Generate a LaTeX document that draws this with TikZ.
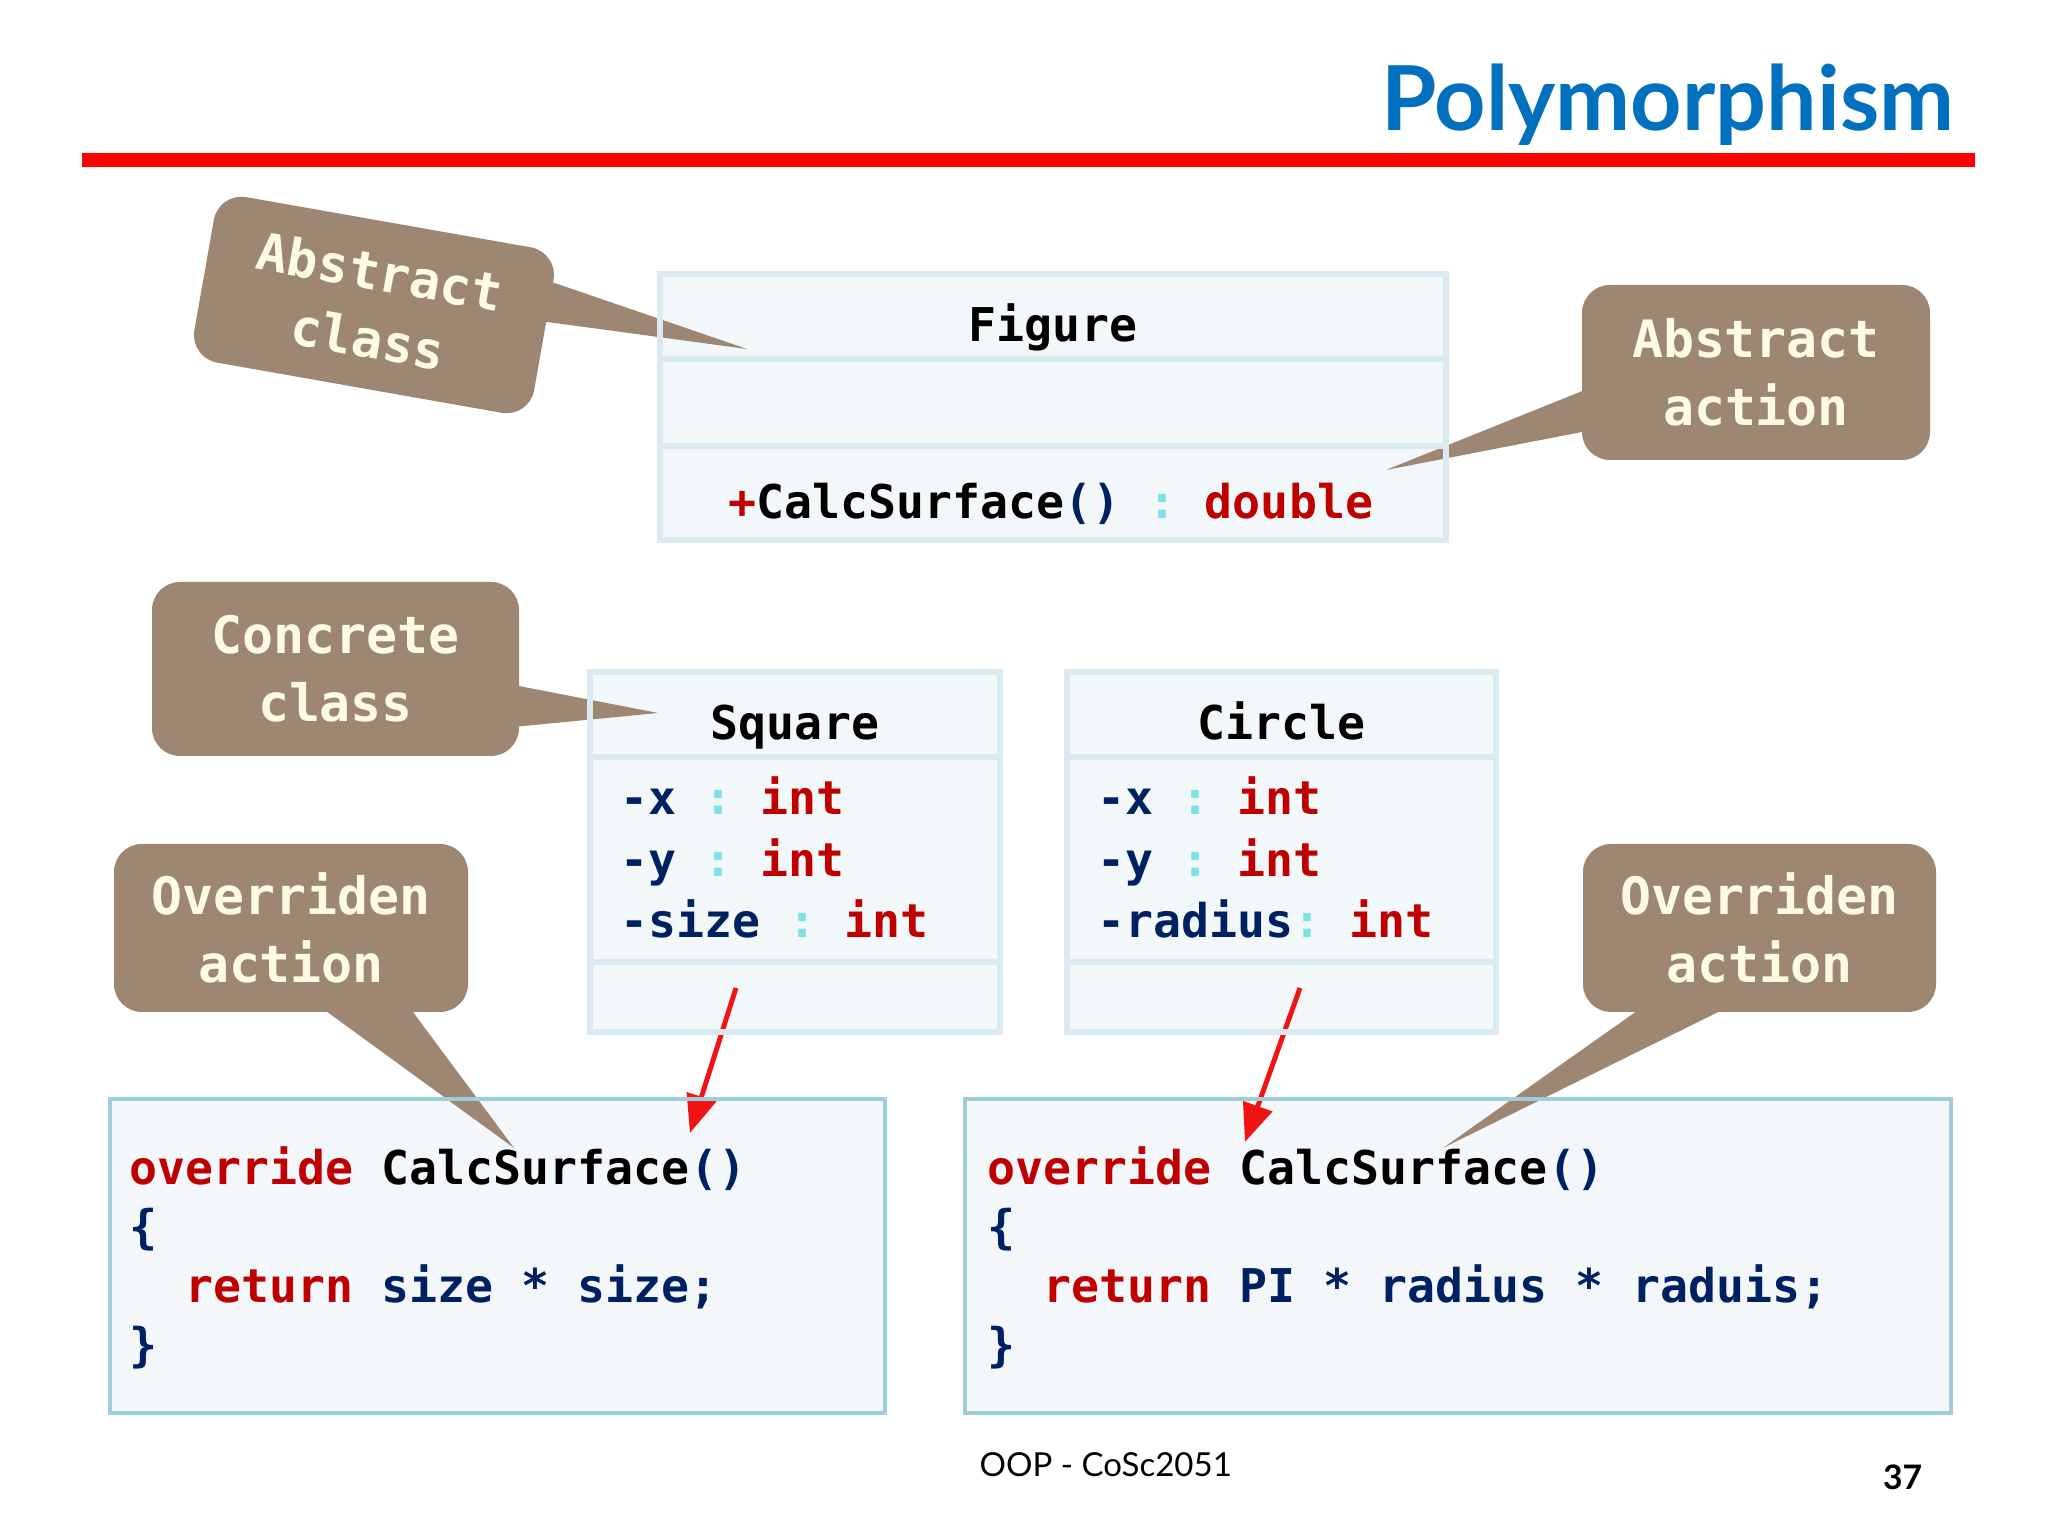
\documentclass[tikz,border=0pt]{standalone}
\usepackage{fontspec}
\setmainfont{Lato}
\setmonofont{DejaVu Sans Mono}
\usepackage{tikz}
\usetikzlibrary{calc,arrows.meta}
\definecolor{titleblue}{rgb}{0.0, 0.44, 0.75}
\definecolor{keyred}{rgb}{0.75, 0.0, 0.0}
\definecolor{typenavy}{rgb}{0.0, 0.13, 0.38}
\definecolor{colcyan}{rgb}{0.5, 0.88, 0.9}
\definecolor{bubblebrown}{rgb}{0.616, 0.525, 0.447}
\definecolor{bubblecream}{rgb}{1.0, 0.984, 0.886}
\definecolor{umlfill}{rgb}{0.949, 0.973, 0.976}
\definecolor{umlborder}{rgb}{0.855, 0.918, 0.941}
\definecolor{codefill}{rgb}{0.953, 0.969, 0.98}
\definecolor{codeborder}{rgb}{0.627, 0.804, 0.855}
\definecolor{arrowred}{rgb}{0.94, 0.08, 0.08}
\newcommand{\kwd}[1]{\textcolor{keyred}{#1}}
\newcommand{\nvy}[1]{\textcolor{typenavy}{#1}}
\newcommand{\cln}[1]{\textcolor{colcyan}{#1}}

\begin{document}
\begin{tikzpicture}[
	umlbox/.style={draw=umlborder,fill=umlfill,line width=1.5pt,outer sep=0pt,inner sep=0pt},
	codebox/.style={draw=codeborder,fill=codefill,line width=0.9pt,outer sep=0pt,inner sep=0pt},
	mono/.style={font=\ttfamily\bfseries\fontsize{13.24}{16}\selectfont,inner sep=0pt},
	bubble/.style={fill=bubblebrown,text=bubblecream,rounded corners=0.28cm,align=center,inner sep=0pt,font=\ttfamily\bfseries\fontsize{14.65}{19.3}\selectfont},
	overarrow/.style={arrowred,line width=1.4pt,-{Triangle[length=0.38cm,width=0.3cm]}}]
	\useasboundingbox (0,0) rectangle (20.48,15.36);
	\fill[white] (0,0) rectangle (20.48,15.36);
	\node[anchor=base east,text=titleblue,font=\bfseries\fontsize{25.5}{30}\selectfont,inner sep=0pt] (title) at (19.55,14.05) {Polymorphism};
	\draw[red,line width=0.14cm] (0.82,13.76)--(19.75,13.76);
	% class boxes
	\foreach \n/\y/\h in {name/12.195/0.85,attr/11.335/0.87,ops/10.43/0.94}
		\node[umlbox,minimum width=7.86cm,minimum height=\h cm] (fig-\n) at (10.53,\y) {};
	\foreach \c/\x/\w in {sq/7.95/4.10,ci/12.815/4.29}
		\foreach \n/\y/\h in {name/8.215/0.85,attr/6.765/2.05,ops/5.39/0.70}
			\node[umlbox,minimum width=\w cm,minimum height=\h cm] (\c-\n) at (\x,\y) {};
	\node[mono,anchor=base] (fig-label) at (10.53,11.94) {Figure};
	\node[mono,anchor=base west] (fig-op) at (7.28,10.17) {\kwd{+}CalcSurface\nvy{()} \cln{:} \kwd{double}};
	\node[mono,anchor=base] (sq-label) at (7.95,7.96) {Square};
	\node[mono,anchor=base] (ci-label) at (12.815,7.96) {Circle};
	\foreach \ln [count=\i from 0] in {{\nvy{-x} \cln{:} \kwd{int}},{\nvy{-y} \cln{:} \kwd{int}},{\nvy{-size} \cln{:} \kwd{int}}}
		\node[mono,anchor=base west] (sq-a\i) at (6.20,{7.21-0.615*\i}) {\ln};
	\foreach \ln [count=\i from 0] in {{\nvy{-x} \cln{:} \kwd{int}},{\nvy{-y} \cln{:} \kwd{int}},{\nvy{-radius}\cln{:} \kwd{int}}}
		\node[mono,anchor=base west] (ci-a\i) at (10.97,{7.21-0.615*\i}) {\ln};
	% code boxes
	\node[codebox,minimum width=7.75cm,minimum height=3.14cm] (code-sq) at (4.975,2.80) {};
	\node[codebox,minimum width=9.86cm,minimum height=3.14cm] (code-ci) at (14.58,2.80) {};
	\foreach \ln [count=\i from 0] in {{\kwd{override} CalcSurface\nvy{()}},{\nvy{\{}},{\phantom{xx}\kwd{return} \nvy{size * size;}},{\nvy{\}}}}
		\node[mono,anchor=base west] (sq-c\i) at (1.29,{3.51-0.59*\i}) {\ln};
	\foreach \ln [count=\i from 0] in {{\kwd{override} CalcSurface\nvy{()}},{\nvy{\{}},{\phantom{xx}\kwd{return} \nvy{PI * radius * raduis;}},{\nvy{\}}}}
		\node[mono,anchor=base west] (ci-c\i) at (9.87,{3.51-0.59*\i}) {\ln};
	% callouts
	\node[bubble,rotate=-10,minimum width=3.45cm,minimum height=1.68cm] (ac) at (3.74,12.31) {Abstract\\class};
	\node[bubble,minimum width=3.48cm,minimum height=1.75cm] (aa) at (17.56,11.635) {Abstract\\action};
	\node[bubble,minimum width=3.67cm,minimum height=1.74cm] (cc) at (3.355,8.67) {Concrete\\class};
	\node[bubble,minimum width=3.54cm,minimum height=1.68cm] (ovl) at (2.91,6.08) {Overriden\\action};
	\node[bubble,minimum width=3.53cm,minimum height=1.68cm] (ovr) at (17.595,6.08) {Overriden\\action};
	\coordinate (ac-tip) at (7.47,11.87);
	\coordinate (aa-tip) at (13.86,10.66);
	\coordinate (cc-tip) at (6.58,8.23);
	\coordinate (ovl-tip) at (5.14,3.88);
	\coordinate (ovr-tip) at (14.43,3.88);
	\coordinate (ac-b1) at ($(ac.north east)!0.17!(ac.south east)$);
	\coordinate (ac-b2) at ($(ac.north east)!0.42!(ac.south east)$);
	\fill[bubblebrown] ($(ac-b1)!0.06cm!(ac.center)$)--(ac-tip)--($(ac-b2)!0.06cm!(ac.center)$)--cycle;
	\fill[bubblebrown] ($(aa.west)+(0.06,-0.165)$)--(aa-tip)--($(aa.west)+(0.06,-0.585)$)--cycle;
	\fill[bubblebrown] ($(cc.east)+(-0.06,-0.16)$)--(cc-tip)--($(cc.east)+(-0.06,-0.58)$)--cycle;
	\fill[bubblebrown] ($(ovl.south)+(0.29,0.06)$)--(ovl-tip)--($(ovl.south)+(1.18,0.06)$)--cycle;
	\fill[bubblebrown] ($(ovr.south)+(-1.165,0.06)$)--(ovr-tip)--($(ovr.south)+(-0.305,0.06)$)--cycle;
	% overriding arrows
	\coordinate (sq-from) at (7.36,5.48);
	\coordinate (sq-to) at (6.90,4.03);
	\coordinate (ci-from) at (13.00,5.48);
	\coordinate (ci-to) at (12.45,3.94);
	\draw[overarrow] (sq-from)--(sq-to);
	\draw[overarrow] (ci-from)--(ci-to);
	\foreach \n in {fig-name,fig-ops,sq-name,sq-ops,ci-ops}
		\draw[umlborder,line width=1.5pt] (\n.north west) rectangle (\n.south east);
	\foreach \n in {code-sq,code-ci}
		\draw[codeborder,line width=0.9pt] (\n.north west) rectangle (\n.south east);
	\node[anchor=base west,font=\fontsize{9.4}{11}\selectfont,inner sep=0pt] (footer) at (9.79,0.59) {OOP - CoSc2051};
	\node[anchor=base east,font=\bfseries\fontsize{9.6}{11}\selectfont,inner sep=0pt] (pageno) at (19.23,0.46) {37};
\end{tikzpicture}
\end{document}
